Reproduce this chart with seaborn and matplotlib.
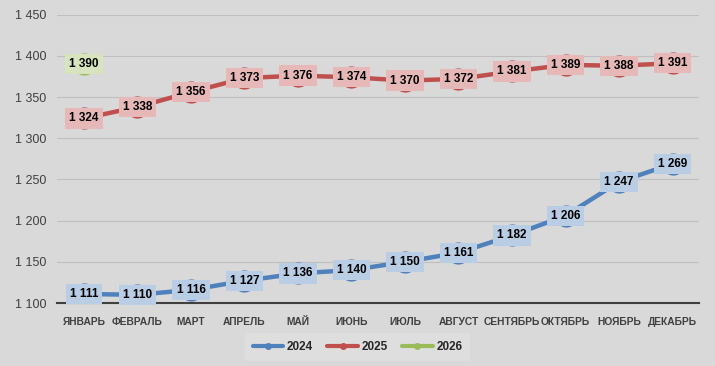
import matplotlib
matplotlib.use("Agg")
import matplotlib.pyplot as plt
import seaborn as sns
import pandas as pd

months = ["ЯНВАРЬ", "ФЕВРАЛЬ", "МАРТ", "АПРЕЛЬ", "МАЙ", "ИЮНЬ", "ИЮЛЬ",
          "АВГУСТ", "СЕНТЯБРЬ", "ОКТЯБРЬ", "НОЯБРЬ", "ДЕКАБРЬ"]
v2024 = [1111, 1110, 1116, 1127, 1136, 1140, 1150, 1161, 1182, 1206, 1247, 1269]
v2025 = [1324, 1338, 1356, 1373, 1376, 1374, 1370, 1372, 1381, 1389, 1388, 1391]
v2026 = [1390]

colors = {"2024": "#4f81bd", "2025": "#c0504d", "2026": "#9bbb59"}
box_colors = {"2024": "#b9cde5", "2025": "#e6b9b8", "2026": "#d7e4bd"}


def fmt(v):
    return f"{v:,}".replace(",", " ")


rows = []
for year, vals in [("2024", v2024), ("2025", v2025), ("2026", v2026)]:
    for m, v in zip(months, vals):
        rows.append({"Месяц": m, "Значение": v, "Год": year})
df = pd.DataFrame(rows)

sns.set_theme(style="white")
plt.rcParams['font.family'] = ['Liberation Sans', 'DejaVu Sans']

bg = "#d9d9d9"
fig, ax = plt.subplots(figsize=(7.15, 3.66), dpi=100)
fig.patch.set_facecolor(bg)
ax.set_facecolor(bg)
fig.subplots_adjust(left=0.08, right=0.978, top=0.96, bottom=0.172)

pos = {m: i for i, m in enumerate(months)}
df["x"] = df["Месяц"].map(pos)

sns.lineplot(data=df, x="x", y="Значение", hue="Год", palette=colors,
             marker="o", markersize=16, linewidth=3.2, ax=ax,
             markeredgewidth=0, legend=False)

for _, r in df.iterrows():
    ax.text(r["x"], r["Значение"], fmt(r["Значение"]), ha="center", va="center",
            fontsize=8.5, fontweight="bold", color="black", zorder=5,
            bbox=dict(boxstyle="square,pad=0.35", fc=box_colors[r["Год"]], ec="none"))

ax.set_xlim(-0.5, len(months) - 0.5)
ax.set_ylim(1100, 1450)
ax.set_yticks(range(1100, 1451, 50))
ax.set_yticklabels([fmt(t) for t in range(1100, 1451, 50)], fontsize=9, color="#404040")
ax.set_xticks(range(len(months)))
ax.set_xticklabels(months, fontsize=7.4, fontweight="bold", color="#404040")
ax.tick_params(axis="both", length=0, pad=8)
ax.tick_params(axis="x", pad=10)
ax.set_xlabel("")
ax.set_ylabel("")
ax.grid(axis="y", color="#bfbfbf", linewidth=0.8)
ax.set_axisbelow(True)
for s in ["top", "right", "left"]:
    ax.spines[s].set_visible(False)
ax.spines["bottom"].set_color("#404040")
ax.spines["bottom"].set_linewidth(1.5)

handles = [plt.Line2D([0], [0], color=colors[y], lw=3, marker="o", markersize=4)
           for y in ["2024", "2025", "2026"]]
leg = fig.legend(handles, ["2024", "2025", "2026"], loc="center",
                 bbox_to_anchor=(0.5, 0.052), ncol=3, frameon=True,
                 handlelength=2.6, handletextpad=0.3, columnspacing=1.2,
                 prop={"weight": "bold", "size": 8.5})
leg.get_frame().set_facecolor("#e0e0e0")
leg.get_frame().set_edgecolor("none")
leg.get_frame().set_boxstyle("square")

fig.savefig("out.png", dpi=100, facecolor=bg)
